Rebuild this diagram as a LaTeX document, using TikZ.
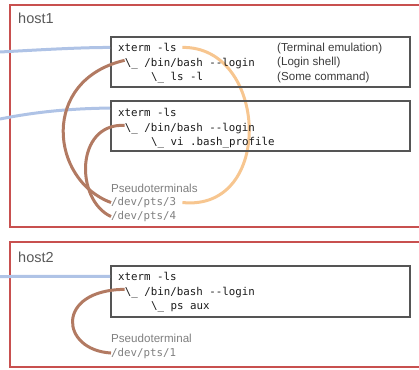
\documentclass[tikz,border=0pt]{standalone}
\usepackage{fontspec}
\setmainfont{Liberation Sans}
\setmonofont{DejaVu Sans Mono}
\definecolor{hostred}{HTML}{C8504F}
\definecolor{boxgray}{HTML}{555555}
\definecolor{netblue}{HTML}{AFC3E6}
\definecolor{ptybrown}{HTML}{B27A62}
\definecolor{termorange}{HTML}{F7C690}
\definecolor{labelgray}{HTML}{7F7F7F}
\definecolor{hostgray}{HTML}{595959}
\definecolor{codeblack}{HTML}{1A1A1A}
\pgfdeclarelayer{background}
\pgfsetlayers{background,main}
\tikzset{
  hostframe/.style={draw=hostred, line width=2pt},
  procbox/.style={draw=boxgray, line width=2pt, rectangle, inner sep=0pt,
    minimum width=299pt, minimum height=50pt, anchor=north west},
  code/.style={font=\ttfamily\fontsize{10.8}{13}\selectfont, anchor=base west,
    inner sep=0pt, text=codeblack},
  note/.style={font=\fontsize{11.6}{14}\selectfont, anchor=base west,
    inner sep=0pt, text=codeblack!85},
  hostlabel/.style={font=\fontsize{14.5}{17}\selectfont, anchor=base west,
    inner sep=0pt, text=hostgray},
  ptylabel/.style={text=labelgray},
  netlink/.style={draw=netblue, line width=3pt},
  ptylink/.style={draw=ptybrown, line width=3pt},
  termlink/.style={draw=termorange, line width=3pt},
}
\newcommand{\subproc}{\textbackslash\_}
\begin{document}
\begin{tikzpicture}[x=1pt, y=-1pt]
\useasboundingbox (0,0) rectangle (419,369);

% hosts
\draw[hostframe] (10,5) rectangle (432,227);
\draw[hostframe] (10,242) rectangle (432,367);
\node[hostlabel] (h1) at (18,24) {host1};
\node[hostlabel] (h2) at (18,262) {host2};

% process trees
\node[procbox] (box1) at (110,36) {};
\node[procbox] (box2) at (110,100) {};
\node[procbox, minimum height=51pt] (box3) at (110,265) {};

\node[code] (x1) at (118,51.5) {xterm -ls};
\node[code] (sh1) at (124.6,66.2) {\subproc{} /bin/bash -\kern0pt-login};
\node[code] (c1) at (151,80.9) {\subproc{} ls -l};
\node[note] (n1) at (277,51) {(Terminal emulation)};
\node[note] (n2) at (277,65.7) {(Login shell)};
\node[note] (n3) at (277,80.4) {(Some command)};

\node[code] (x2) at (118,116.5) {xterm -ls};
\node[code] (sh2) at (124.6,131.2) {\subproc{} /bin/bash -\kern0pt-login};
\node[code] (c2) at (151,145.9) {\subproc{} vi .bash\_profile};

\node[code] (x3) at (118,280.5) {xterm -ls};
\node[code] (sh3) at (124.6,295.2) {\subproc{} /bin/bash -\kern0pt-login};
\node[code] (c3) at (151,309.9) {\subproc{} ps aux};

% pseudoterminals
\node[note, ptylabel] (pt1) at (111,192) {Pseudoterminals};
\node[code, ptylabel] (pts3) at (111,205.5) {/dev/pts/3};
\node[code, ptylabel] (pts4) at (111,219.5) {/dev/pts/4};
\node[note, ptylabel] (pt2) at (111,342) {Pseudoterminal};
\node[code, ptylabel] (pts1) at (111,356) {/dev/pts/1};

% terminal emulator to pseudoterminal master, kept under the text
\begin{pgfonlayer}{background}
\draw[termlink] ([xshift=5.5]x1.east) .. controls (268,46) and (275,212)
  .. ([xshift=6]pts3.east);
\end{pgfonlayer}

% network connections
\coordinate (net1) at (0,52);
\coordinate (net2) at (0,119);
\coordinate (net3) at (0,276.5);
\draw[netlink] (net1) .. controls (45,49.5) and (80,47.5) .. (box1.west |- x1);
\draw[netlink] (net2) .. controls (40,111) and (75,108.5) .. (box2.west |- x2.north);
\draw[netlink] (net3) -- (box3.west |- x3);

% shells to pseudoterminal slaves
\draw[ptylink] ([yshift=3]sh1.west) .. controls (40,80) and (50,180) .. (pts3.west);
\draw[ptylink] ([yshift=3]sh2.west) .. controls (75,123) and (75,200) .. (pts4.west);
\draw[ptylink] ([yshift=3]sh3.west) .. controls (55,290) and (60,350) .. (pts1.west);
\end{tikzpicture}
\end{document}
